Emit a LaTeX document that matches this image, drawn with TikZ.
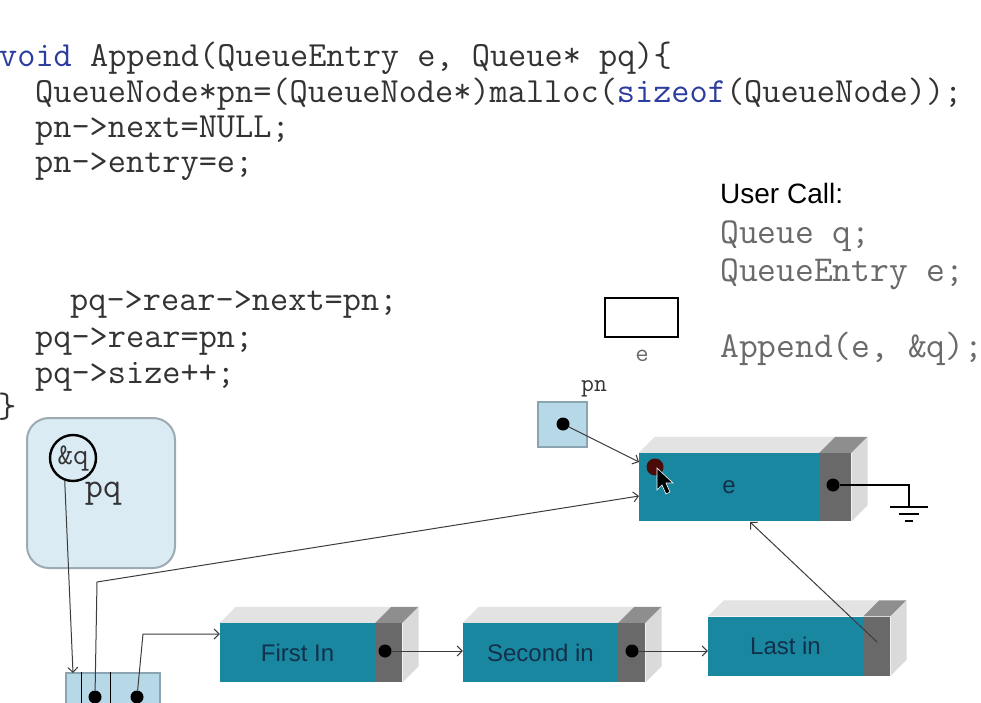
\documentclass[tikz,border=0pt]{standalone}
\usepackage{fontspec}
\setmainfont{Liberation Sans}
\usetikzlibrary{positioning,calc,arrows.meta}

\definecolor{tealfront}{HTML}{1A87A1}
\definecolor{topface}{HTML}{E3E3E3}
\definecolor{sideface}{HTML}{DADADA}
\definecolor{taildark}{HTML}{696969}
\definecolor{tailtop}{HTML}{8E8E8E}
\definecolor{navytext}{HTML}{13304A}
\definecolor{codegray}{HTML}{333333}
\definecolor{callgray}{HTML}{6A6A6A}
\definecolor{kwblue}{HTML}{2B3D9E}
\definecolor{linkgray}{HTML}{3C3C3C}
\definecolor{ptrblue}{HTML}{B7D8E7}
\definecolor{ptredge}{HTML}{8AA4B2}
\definecolor{pqfill}{HTML}{DAEBF3}
\definecolor{pqedge}{HTML}{9DAAB2}
\definecolor{spotred}{HTML}{4A0C08}

\begin{document}
\begin{tikzpicture}[x=1pt, y=-1pt,
  code/.style={anchor=base west, inner sep=0, font=\fontsize{35.3}{40}\ttfamily, text=codegray},
  front/.style={rectangle, fill=tealfront, minimum width=155pt, minimum height=59pt, inner sep=0, font=\fontsize{24}{28}\selectfont, text=navytext},
  tail/.style={rectangle, fill=taildark, minimum width=27pt, minimum height=59pt, inner sep=0},
  dot/.style={circle, fill=black, inner sep=0, minimum size=13pt},
  link/.style={-{Straight Barb[length=5pt, width=10pt]}, draw=linkgray, line width=1pt},
  wire/.style={draw=black, line width=2pt},
  ptrbox/.style={rectangle, fill=ptrblue, draw=ptredge, line width=1.5pt}]

    \path[use as bounding box, fill=white] (0,0) rectangle (981,703);

    % the function
    \node[code] (sig) at (-1,67) {\textcolor{kwblue}{void} Append(QueueEntry e, Queue* pq)\{};
    \node[code] (alloc) at (35,103) {QueueNode*pn=(QueueNode*)malloc(\textcolor{kwblue}{sizeof}(QueueNode));};
    \node[code] (setnext) at (35,138) {pn->next=NULL;};
    \node[code] (setentry) at (35,173) {pn->entry=e;};
    \node[code] (linkrear) at (70,310) {pq->rear->next=pn;};
    \node[code] (setrear) at (35,347) {pq->rear=pn;};
    \node[code] (incsize) at (35,383) {pq->size++;};
    \node[code] (closing) at (-2,417) {\}};

    % user call
    \node[anchor=base west, inner sep=0, font=\fontsize{28}{32}\selectfont] (usercall) at (720,204) {User Call:};
    \node[code, font=\fontsize{36.5}{40}\ttfamily, text=callgray] (declq) at (720,243) {Queue q;};
    \node[code, font=\fontsize{36.5}{40}\ttfamily, text=callgray] (decle) at (720,281) {QueueEntry e;};
    \node[code, font=\fontsize{36.5}{40}\ttfamily, text=callgray] (callappend) at (720,357) {Append(e, \&q);};

    \node[rectangle, draw=black, line width=2.5pt, fill=white, minimum width=73pt, minimum height=39pt] (evar) at (641.5,317.5) {};
    \node[font=\fontsize{26}{28}\ttfamily, text=callgray] (evar-label) at (642,356) {e};

    % pq and the queue
    \node[rectangle, rounded corners=22pt, fill=pqfill, draw=pqedge, line width=2pt, minimum width=148pt, minimum height=150pt] (pqbox) at (101,493) {};
    \node[circle, draw=black, line width=2.4pt, minimum size=46pt, inner sep=0, font=\fontsize{30}{32}\ttfamily, text=codegray] (amp) at (73,458) {\&q};
    \node[font=\fontsize{35.3}{40}\ttfamily, text=codegray] (pq-label) at (103,494) {pq};

    \node[ptrbox, minimum width=94pt, minimum height=44pt] (queue) at (113,695) {};
    \draw[draw=black, line width=1pt] ([xshift=16pt]queue.north west) -- ([xshift=16pt]queue.south west);
    \draw[draw=black, line width=1pt] ([xshift=45pt]queue.north west) -- ([xshift=45pt]queue.south west);

    % pn
    \node[ptrbox, minimum width=49pt, minimum height=45pt] (pn) at (562.5,424.5) {};
    \node[font=\fontsize{25}{28}\ttfamily, text=codegray] (pn-label) at (594,389) {pn};

    % queue nodes
    \node[front] (first) at (297.5,652.5) {First In};
    \node[tail, right=0pt of first] (first-tail) {};
    \node[front] (second) at (540.5,652.5) {Second in};
    \node[tail, right=0pt of second] (second-tail) {};
    \node[front] (last) at (785.5,646) {Last in};
    \node[tail, right=0pt of last] (last-tail) {};
    \node[front, minimum width=180pt, minimum height=68pt] (enode) at (729,487) {e};
    \node[tail, minimum width=32pt, minimum height=68pt, right=0pt of enode] (enode-tail) {};

    \foreach \n in {first,second,last,enode} {
      \fill[topface] (\n.north west) -- ++(16,-16) -- ($(\n.north east)+(16,-16)$) -- (\n.north east) -- cycle;
      \fill[tailtop] (\n-tail.north west) -- ++(16,-16) -- ($(\n-tail.north east)+(16,-16)$) -- (\n-tail.north east) -- cycle;
      \fill[sideface] (\n-tail.north east) -- ++(16,-16) -- ($(\n-tail.south east)+(16,-16)$) -- (\n-tail.south east) -- cycle;
    }

    \coordinate (ein-top) at (639,462);
    \coordinate (ein-low) at (639,496);
    \coordinate (rear-bend) at (97,582);
    \coordinate (front-bend) at (143,634);
    \coordinate (eout) at (750,522);
    \coordinate (last-end) at (877,642);
    \coordinate (queue-in) at (73,673);
    \coordinate (gnd) at (909,507);

    \node[dot] (qrear) at (95,697) {};
    \node[dot] (qfront) at (137,697) {};
    \node[dot] (pn-dot) at (563,424) {};
    \node[dot] (first-dot) at (385,651) {};
    \node[dot] (second-dot) at (632,651) {};
    \node[dot] (enode-dot) at (833,485) {};
    \node[circle, fill=spotred, minimum size=17pt, inner sep=0] (spot) at (655,467) {};

    \draw[link] (pn-dot) -- (ein-top);
    \draw[link] (qrear) -- (rear-bend) -- (ein-low);
    \draw[link] (qfront) -- (front-bend) -- (first.west |- front-bend);
    \draw[link] (first-dot) -- (second.west |- first-dot);
    \draw[link] (second-dot) -- (last.west |- second-dot);
    \draw[link] (last-end) -- (eout);
    \draw[link] (amp.250) -- (queue-in);

    % ground
    \draw[wire] (enode-dot) -| (gnd);
    \draw[wire] ([xshift=-19pt]gnd) -- ([xshift=19pt]gnd);
    \draw[wire] ([xshift=-10pt,yshift=-7pt]gnd) -- ([xshift=10pt,yshift=-7pt]gnd);
    \draw[wire] ([xshift=-4pt,yshift=-14pt]gnd) -- ([xshift=4pt,yshift=-14pt]gnd);

    % mouse pointer
    \fill[black, draw=white, line width=0.6pt] (spot.center) ++(2,1) -- ++(0,22) -- ++(5,-5) -- ++(4,9) -- ++(4,-2) -- ++(-4,-9) -- ++(7,0) -- cycle;

  \end{tikzpicture}
\end{document}
